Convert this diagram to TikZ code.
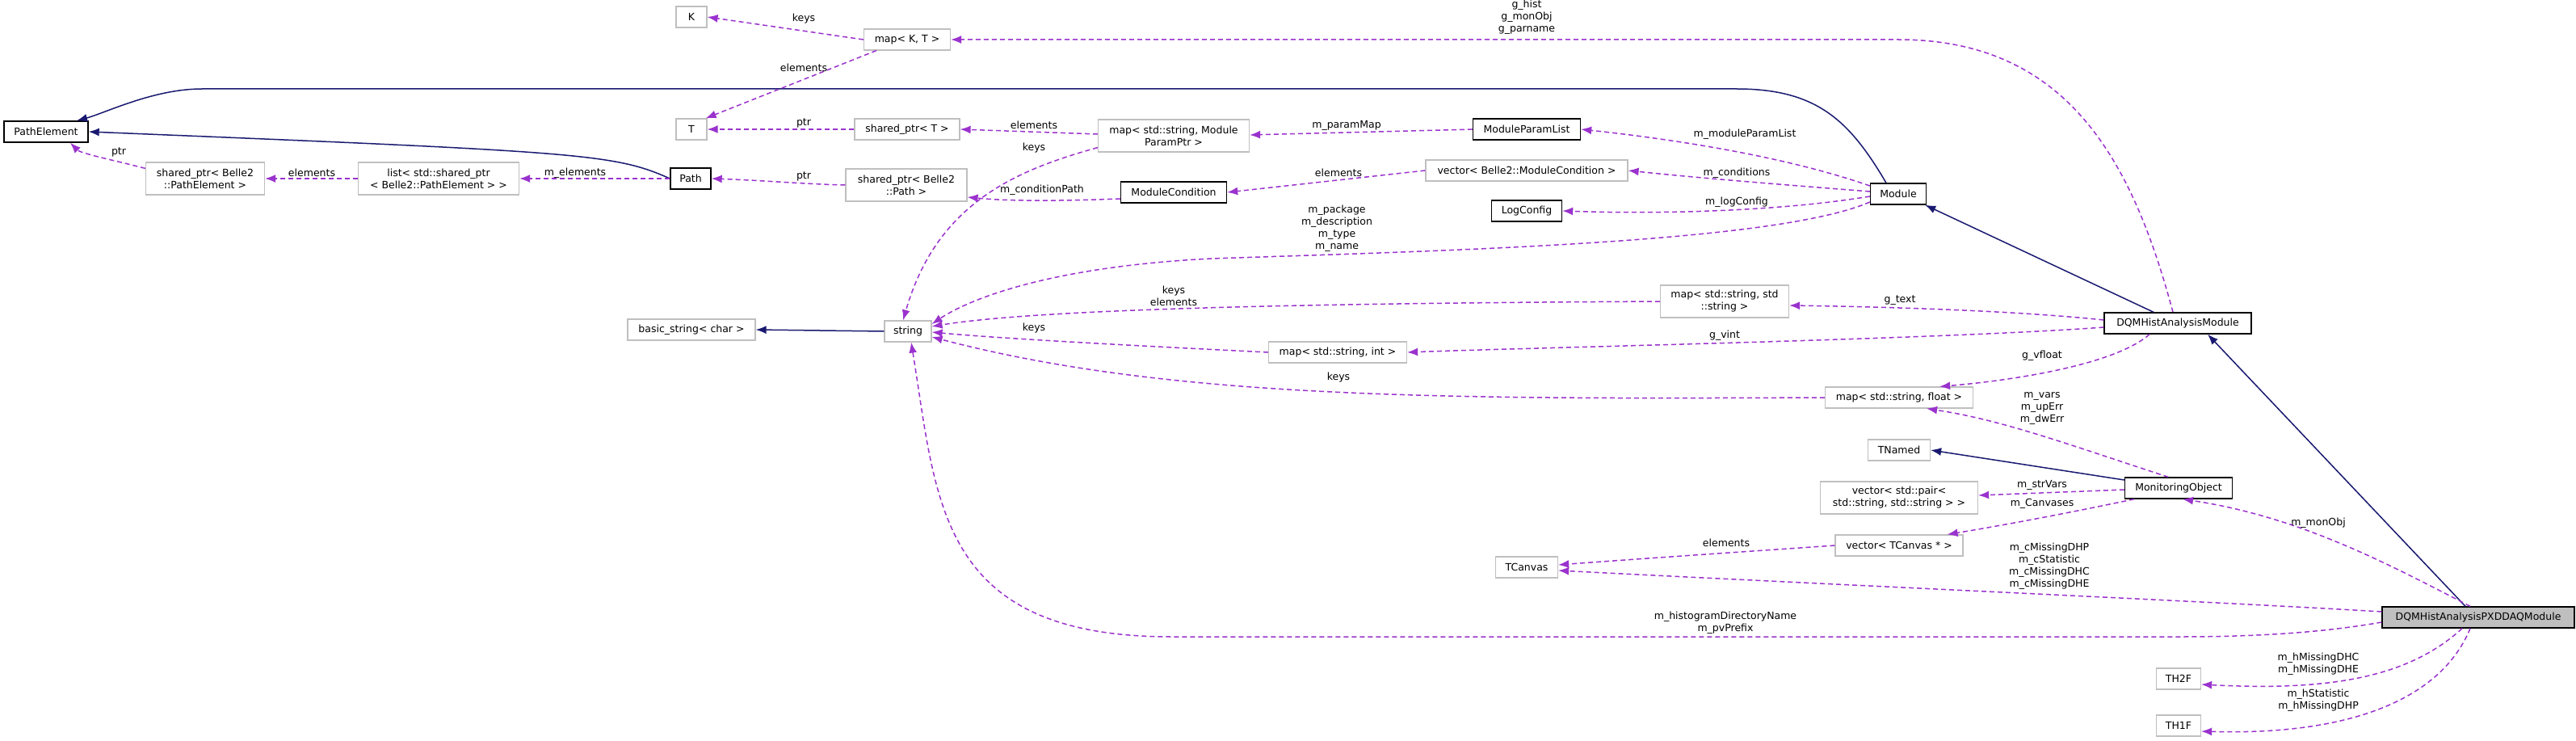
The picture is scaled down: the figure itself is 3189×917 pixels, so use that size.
\documentclass[tikz,border=0pt]{standalone}
\usepackage{fontspec}
\setmainfont{DejaVu Sans}
\usetikzlibrary{arrows.meta}
\definecolor{pur}{HTML}{9A32CD}
\definecolor{nav}{HTML}{191970}
\definecolor{gb}{HTML}{BFBFBF}
\begin{document}
\begin{tikzpicture}[x=1pt,y=-1pt,
  every node/.style={font=\fontsize{12.5}{15}\selectfont, inner sep=0pt, align=center},
  ext/.style={draw=gb, line width=1.2pt, fill=white, rectangle, minimum height=26},
  doc/.style={draw=black, line width=1.4pt, fill=white, rectangle, minimum height=26},
  use/.style={draw=pur, line width=1.5pt, dash pattern=on 6pt off 4pt, -{Latex[length=13pt,width=10pt]}},
  inh/.style={draw=nav, line width=1.5pt, -{Latex[length=13pt,width=10pt]}},
  lbl/.style={}]
\useasboundingbox (0,0) rectangle (3189,917);
% nodes
\node[ext, minimum width=38] (K) at (856,21) {K};
\node[ext, minimum width=107] (mapKT) at (1123,49) {map< K, T >};
\node[ext, minimum width=38] (T) at (856,160) {T};
\node[doc, minimum width=104] (PE) at (57,163) {PathElement};
\node[ext, minimum width=147, minimum height=40] (spPE) at (254,221) {shared\_ptr< Belle2\\::PathElement >};
\node[ext, minimum width=199, minimum height=40] (list) at (543,221) {list< std::shared\_ptr\\< Belle2::PathElement > >};
\node[doc, minimum width=50] (Path) at (855,221) {Path};
\node[ext, minimum width=158] (basic) at (856,408) {basic\_string< char >};
\node[ext, minimum width=130] (spT) at (1123,160) {shared\_ptr< T >};
\node[ext, minimum width=187, minimum height=40] (mapMPP) at (1453,168) {map< std::string, Module\\ParamPtr >};
\node[doc, minimum width=133] (MPL) at (1890,160) {ModuleParamList};
\node[ext, minimum width=150, minimum height=40] (spPath) at (1122,229) {shared\_ptr< Belle2\\::Path >};
\node[doc, minimum width=131] (MC) at (1453,238) {ModuleCondition};
\node[ext, minimum width=250] (vecMC) at (1890,211) {vector< Belle2::ModuleCondition >};
\node[doc, minimum width=87] (LC) at (1890,261) {LogConfig};
\node[ext, minimum width=58] (str) at (1124,410) {string};
\node[ext, minimum width=159, minimum height=40] (mapSS) at (2135,373) {map< std::string, std\\::string >};
\node[ext, minimum width=171] (mapSI) at (1656,436) {map< std::string, int >};
\node[doc, minimum width=69] (Mod) at (2350,240) {Module};
\node[doc, minimum width=182] (DHAM) at (2696,400) {DQMHistAnalysisModule};
\node[ext, minimum width=183] (mapSF) at (2351,492) {map< std::string, float >};
\node[ext, minimum width=77] (TN) at (2351,557) {TNamed};
\node[ext, minimum width=195, minimum height=40] (vecP) at (2351,616) {vector< std::pair<\\std::string, std::string > >};
\node[doc, minimum width=133] (MO) at (2697,604) {MonitoringObject};
\node[ext, minimum width=158] (vecTC) at (2351,675) {vector< TCanvas * >};
\node[ext, minimum width=77] (TC) at (1890,702) {TCanvas};
\node[doc, fill=gb, minimum width=238] (PXD) at (3068,764) {DQMHistAnalysisPXDDAQModule};
\node[ext, minimum width=55] (TH2) at (2697,840) {TH2F};
\node[ext, minimum width=55] (TH1) at (2697,898) {TH1F};
% inheritance
\draw[inh] ([xshift=-15]Mod.north) .. controls (2290,150) and (2250,110) .. (2150,110) -- (250,110) .. controls (190,110) and (130,140) .. ([xshift=38]PE.north);
\draw[inh] (Path.west) .. controls (760,190) and (720,188) .. (PE.east);
\draw[inh] (str.west) -- (basic.east);
\draw[inh] ([xshift=-30]DHAM.north) -- ([xshift=-2]Mod.south east);
\draw[inh] ([yshift=10]MO.west) -- (TN.east);
\draw[inh] ([xshift=-16]PXD.north) -- ([xshift=37]DHAM.south);
% usage
\draw[use] (mapKT.west) -- (K.east);
\draw[use] ([xshift=16]mapKT.south west) -- ([xshift=-2]T.north east);
\draw[use] (spT.west) -- (T.east);
\draw[use] ([yshift=2]mapMPP.west) -- (spT.east);
\draw[use] ([yshift=6]mapMPP.south west) .. controls (1260,210) and (1160,250) .. ([xshift=-6]str.north);
\draw[use] (MPL.west) -- ([yshift=1]mapMPP.east);
\draw[use] ([yshift=10]Mod.west) .. controls (2200,190) and (2050,170) .. (MPL.east);
\draw[use] (spPath.west) .. controls (1000,228) and (940,223) .. (Path.east);
\draw[use] (Path.west) -- (list.east);
\draw[use] (list.west) -- (spPE.east);
\draw[use] ([yshift=-8]spPE.north west) .. controls (140,198) and (100,190) .. ([xshift=30]PE.south);
\draw[use] ([yshift=-8]MC.west) .. controls (1330,248) and (1260,250) .. ([yshift=-15]spPath.east);
\draw[use] (vecMC.west) -- (MC.east);
\draw[use] ([yshift=3]Mod.west) .. controls (2200,228) and (2100,220) .. (vecMC.east);
\draw[use] ([yshift=-3]Mod.west) .. controls (2200,262) and (2050,265) .. (LC.east);
\draw[use] ([yshift=-10]Mod.west) .. controls (2200,300) and (1800,310) .. (1500,320) .. controls (1300,330) and (1200,370) .. ([yshift=9]str.east);
\draw[use] (mapSS.west) .. controls (1700,375) and (1300,380) .. ([yshift=6]str.east);
\draw[use] (mapSI.west) .. controls (1450,430) and (1250,420) .. ([yshift=-1]str.east);
\draw[use] (mapSF.west) .. controls (1800,494) and (1450,495) .. ([yshift=-7]str.east);
\draw[use] ([xshift=-6]DHAM.north) .. controls (2640,200) and (2560,49) .. (2350,49) -- (mapKT.east);
\draw[use] ([yshift=4]DHAM.west) .. controls (2500,385) and (2350,380) .. ([yshift=-5]mapSS.east);
\draw[use] ([yshift=-5]DHAM.west) .. controls (2400,420) and (1900,430) .. (mapSI.east);
\draw[use] ([xshift=-35]DHAM.south) .. controls (2620,450) and (2500,470) .. ([xshift=-42]mapSF.north east);
\draw[use] ([xshift=-80]MO.north east) .. controls (2560,550) and (2480,520) .. ([xshift=-58]mapSF.south east);
\draw[use] ([yshift=-2]MO.west) -- ([yshift=3]vecP.east);
\draw[use] ([xshift=-55]MO.south) .. controls (2560,635) and (2480,650) .. ([xshift=-20]vecTC.north east);
\draw[use] (vecTC.west) .. controls (2200,680) and (2050,690) .. ([yshift=3]TC.east);
\draw[use] ([xshift=-10]PXD.north) .. controls (2960,700) and (2850,640) .. ([xshift=5]MO.south);
\draw[use] ([yshift=7]PXD.west) .. controls (2750,745) and (2300,725) .. ([yshift=-4]TC.east);
\draw[use] ([yshift=-6]PXD.west) .. controls (2880,782) and (2800,788) .. (2700,788) -- (1450,788) .. controls (1160,788) and (1160,620) .. ([xshift=4]str.south);
\draw[use] ([xshift=-20]PXD.south) .. controls (2980,840) and (2880,855) .. ([yshift=-7]TH2.east);
\draw[use] ([xshift=-10]PXD.south) .. controls (3020,870) and (2900,910) .. ([yshift=-7]TH1.east);
% labels
\node[lbl] (l1) at (995,23) {keys};
\node[lbl] (l2) at (995,84) {elements};
\node[lbl] (l3) at (995,152) {ptr};
\node[lbl] (l4) at (1280,155) {elements};
\node[lbl] (l5) at (1280,183) {keys};
\node[lbl] (l6) at (1667,155) {m\_paramMap};
\node[lbl] (l7) at (2160,166) {m\_moduleParamList};
\node[lbl] (l8) at (995,218) {ptr};
\node[lbl] (l9) at (712,214) {m\_elements};
\node[lbl] (l10) at (386,214) {elements};
\node[lbl] (l11) at (147,188) {ptr};
\node[lbl] (l12) at (1290,235) {m\_conditionPath};
\node[lbl] (l13) at (1657,214) {elements};
\node[lbl] (l14) at (2150,214) {m\_conditions};
\node[lbl] (l15) at (2150,250) {m\_logConfig};
\node[lbl] (l16) at (1655,283) {m\_package\\m\_description\\m\_type\\m\_name};
\node[lbl] (l17) at (1453,366) {keys\\elements};
\node[lbl] (l18) at (1280,406) {keys};
\node[lbl] (l19) at (1657,467) {keys};
\node[lbl] (l20) at (1890,21) {g\_hist\\g\_monObj\\g\_parname};
\node[lbl] (l21) at (2352,372) {g\_text};
\node[lbl] (l22) at (2135,415) {g\_vint};
\node[lbl] (l23) at (2528,440) {g\_vfloat};
\node[lbl] (l24) at (2528,505) {m\_vars\\m\_upErr\\m\_dwErr};
\node[lbl] (l25) at (2528,600) {m\_strVars};
\node[lbl] (l26) at (2528,623) {m\_Canvases};
\node[lbl] (l27) at (2137,672) {elements};
\node[lbl] (l28) at (2870,647) {m\_monObj};
\node[lbl] (l29) at (2537,701) {m\_cMissingDHP\\m\_cStatistic\\m\_cMissingDHC\\m\_cMissingDHE};
\node[lbl] (l30) at (2136,771) {m\_histogramDirectoryName\\m\_pvPrefix};
\node[lbl] (l31) at (2870,822) {m\_hMissingDHC\\m\_hMissingDHE};
\node[lbl] (l32) at (2870,867) {m\_hStatistic\\m\_hMissingDHP};
\end{tikzpicture}
\end{document}
